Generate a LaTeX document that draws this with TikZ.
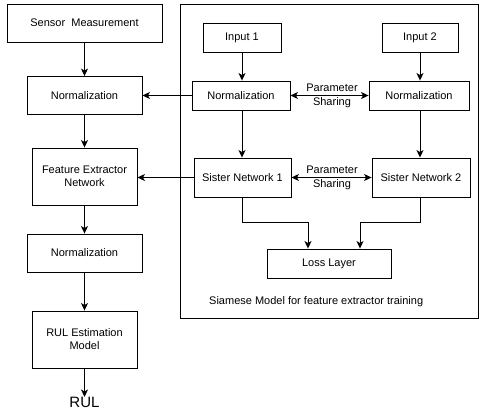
\documentclass[tikz,border=0pt]{standalone}
\usepackage{fontspec}
\setmainfont{Liberation Sans}
\usetikzlibrary{arrows.meta,calc}
\begin{document}
\begin{tikzpicture}[x=1pt,y=-1pt,
  box/.style={draw,line width=0.9pt,inner sep=0pt,align=center,font=\fontsize{11}{13}\selectfont},
  arr/.style={line width=0.9pt,-{Stealth[length=7.5pt,width=7pt,inset=2pt]}},
  darr/.style={line width=0.9pt,{Stealth[length=7.5pt,width=7pt,inset=2pt]}-{Stealth[length=7.5pt,width=7pt,inset=2pt]}},
  lbl/.style={align=center,inner sep=0pt,font=\fontsize{11}{14}\selectfont}]
\useasboundingbox (0,0) rectangle (482,419);
% left column
\node[box,minimum width=155pt,minimum height=38pt] (sensor) at (84.5,23) {Sensor\ \ Measurement};
\node[box,minimum width=115pt,minimum height=38pt] (norm1) at (84.5,95.5) {Normalization};
\node[box,minimum width=105pt,minimum height=57pt] (fe) at (84.5,176.5) {Feature Extractor\\Network};
\node[box,minimum width=115pt,minimum height=38pt] (norm3) at (84.5,253) {Normalization};
\node[box,minimum width=105pt,minimum height=57pt] (rul) at (84.5,339.5) {RUL Estimation\\Model};
\node[inner sep=0pt,font=\fontsize{15}{17}\selectfont,anchor=north] (rultxt) at (84.5,397) {RUL};
% frame
\node[draw,line width=0.9pt,inner sep=0pt,minimum width=298pt,minimum height=314pt] (frame) at (329,161) {};
% right side
\node[box,minimum width=78pt,minimum height=29pt] (in1) at (242,37.5) {Input 1};
\node[box,minimum width=76pt,minimum height=29pt] (in2) at (420,37.5) {Input 2};
\node[box,minimum width=98pt,minimum height=29pt] (n1) at (241,95.5) {Normalization};
\node[box,minimum width=100pt,minimum height=29pt] (n2) at (419,95.5) {Normalization};
\node[box,minimum width=97pt,minimum height=39pt] (s1) at (242.5,177.5) {Sister Network 1};
\node[box,minimum width=98pt,minimum height=39pt] (s2) at (421,177.5) {Sister Network 2};
\node[box,minimum width=124pt,minimum height=29pt] (loss) at (329,263.5) {Loss Layer};
\node[lbl,anchor=west] (siam) at (209,302) {Siamese Model for feature extractor training};
\node[lbl] (ps1) at (332,95.5) {Parameter\\Sharing};
\node[lbl] (ps2) at (332,177.5) {Parameter\\Sharing};
% left arrows
\draw[arr] (sensor) -- (norm1);
\draw[arr] (norm1) -- (fe);
\draw[arr] (fe) -- (norm3);
\draw[arr] (norm3) -- (rul);
\draw[arr] (rul) -- (rultxt);
% right arrows
\draw[arr] (in1.south) -- (in1.south |- n1.north);
\draw[arr] (in2.south) -- (in2.south |- n2.north);
\draw[arr] (in1.south |- n1.south) -- (in1.south |- s1.north);
\draw[arr] (in2.south |- n2.south) -- (in2.south |- s2.north);
\draw[darr] (n1.east) -- (n2.west);
\draw[darr] (s1.east) -- (s2.west);
\draw[arr] (n1.west) -- (n1.west -| norm1.east);
\draw[arr] (s1.west) -- (s1.west -| fe.east);
\coordinate (l1) at ($(loss.north)+(-21,0)$);
\coordinate (l2) at ($(loss.north)+(31,0)$);
\draw[arr] (in1.south |- s1.south) -- ++(0,25) -| (l1);
\draw[arr] (in2.south |- s2.south) -- ++(0,25) -| (l2);
\end{tikzpicture}
\end{document}
